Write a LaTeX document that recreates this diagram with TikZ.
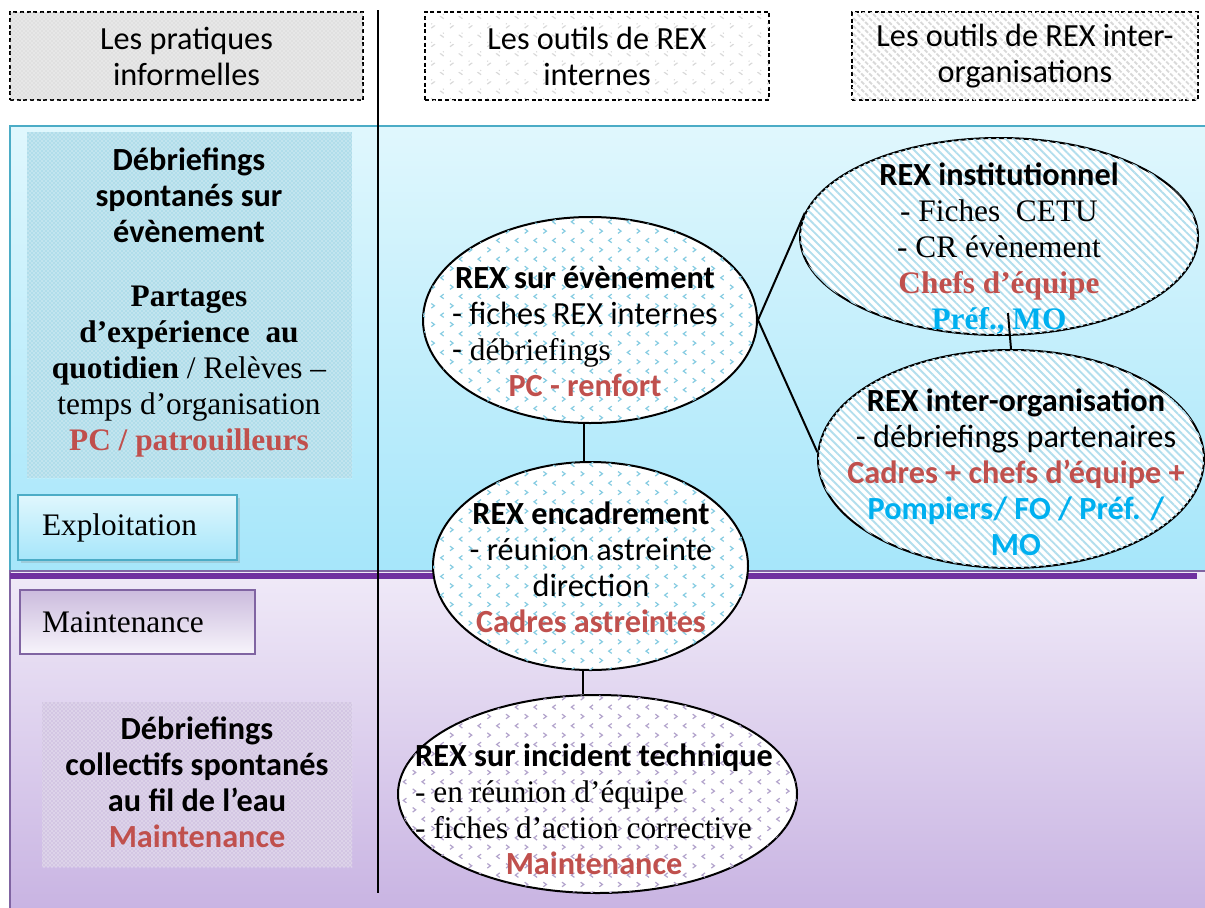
\documentclass[tikz,border=0pt]{standalone}
\usepackage{fontspec}
\setmainfont{Liberation Serif}
\newfontfamily\cb[Scale=1.03]{Carlito}
\usetikzlibrary{shapes.geometric,patterns,patterns.meta,shadows}
\definecolor{rred}{HTML}{C0504D}
\definecolor{bblue}{HTML}{00B0F0}
\definecolor{bandtop}{HTML}{E0F7FD}
\definecolor{bandbot}{HTML}{A6E6FA}
\definecolor{bandline}{HTML}{4BACC6}
\definecolor{ptop}{HTML}{F0EAF8}
\definecolor{pbot}{HTML}{C8B3E2}
\definecolor{pline}{HTML}{8064A2}
\definecolor{pbar}{HTML}{7030A0}
\definecolor{chevblue}{HTML}{86CCE2}
\definecolor{chevlav}{HTML}{B3A4CC}
\definecolor{hatchblue}{HTML}{B2DEED}
\definecolor{dotblue}{HTML}{B0DDEA}
\definecolor{dotlav}{HTML}{D3C6E3}
\definecolor{labtop}{HTML}{CBBBDD}
\pgfdeclarepatternformonly{chev}{\pgfqpoint{-1pt}{-1pt}}{\pgfqpoint{15pt}{15pt}}{\pgfqpoint{14pt}{14pt}}{%
  \pgfsetlinewidth{0.9pt}%
  \pgfpathmoveto{\pgfqpoint{1.5pt}{1.2pt}}\pgfpathlineto{\pgfqpoint{3.8pt}{2.9pt}}\pgfpathlineto{\pgfqpoint{1.5pt}{4.6pt}}%
  \pgfpathmoveto{\pgfqpoint{10.8pt}{8.2pt}}\pgfpathlineto{\pgfqpoint{8.5pt}{9.9pt}}\pgfpathlineto{\pgfqpoint{10.8pt}{11.6pt}}%
  \pgfusepath{stroke}}
\newcommand\fs{\fontsize{23.5}{27}\selectfont}
\newcommand\mc[1]{\multicolumn{1}{@{}c@{}}{#1}}
\tikzset{
  hdr/.style={draw, dash pattern=on 3pt off 2pt, line width=0.9pt, minimum height=66pt, inner sep=0pt, align=center, font=\cb\fs},
  bub/.style={ellipse, draw, line width=1.5pt, fill=white, inner sep=0pt},
  hatch/.style={postaction={pattern={Lines[angle=-45,distance=4.2pt,line width=1.4pt]}, pattern color=#1}},
  conn/.style={line width=1.5pt},
  txt/.style={inner sep=0pt, font=\fs},
  lab/.style={align=left, inner ysep=0pt, minimum height=48.5pt, line width=1.5pt, font=\fs}
}
\begin{document}
\begin{tikzpicture}[x=0.75pt,y=-0.75pt]
\useasboundingbox (0,0) rectangle (1205,907);
\fill[white] (0,0) rectangle (1205,907);
% bands
\shade[top color=bandtop, bottom color=bandbot] (10,126) rectangle (1215,571);
\draw[bandline, line width=1.5pt] (1215,126) -- (10,126) -- (10,571);
\shade[top color=ptop, bottom color=pbot] (10,571) rectangle (1215,915);
\draw[pline, line width=1pt] (1215,571) -- (10,571) -- (10,915);
\fill[pbar] (10,573) rectangle (1197,579);
% vertical divider
\draw[line width=1.5pt] (378,10) -- (378,893);
% headers
\node[hdr, minimum width=264.75pt, fill=gray!24, postaction={pattern=crosshatch dots, pattern color=white}] (h1) at (186.5,56) {Les pratiques\\informelles};
\node[hdr, minimum width=258pt, fill=white, postaction={pattern=chev, pattern color=gray!30}] (h2) at (597,56) {Les outils de REX\\internes};
\node[hdr, minimum width=259.5pt, fill=white, hatch=gray!30] (h3) at (1025,56) {Les outils de REX inter-\\organisations};
% left boxes
\node[inner sep=0pt, minimum width=243.75pt, minimum height=259.5pt, fill=dotblue, postaction={pattern=crosshatch dots, pattern color=white}] (lb1) at (189.5,305) {};
\node[txt] (lb1t) at (189,303) {\begin{tabular}{@{}c@{}}
{\cb\bfseries Débriefings}\\ {\cb\bfseries spontanés sur}\\ {\cb\bfseries évènement}\\[21pt]
\bfseries Partages\\ \bfseries d’expérience\ \ au\\ {\bfseries quotidien} / Relèves –\\ temps d’organisation\\ {\bfseries\color{rred} PC / patrouilleurs}
\end{tabular}};
\node[inner sep=0pt, minimum width=232.5pt, minimum height=123.75pt, fill=dotlav, postaction={pattern=crosshatch dots, pattern color=white}] (lb2) at (197,784.5) {};
\node[txt] (lb2t) at (197,786) {\cb\bfseries\begin{tabular}{@{}c@{}}
Débriefings\\ collectifs spontanés\\ au fil de l’eau\\ {\color{rred}Maintenance}
\end{tabular}};
% section labels
\node[lab, draw=bandline, top color=bandtop, bottom color=bandbot, drop shadow={opacity=0.25, shadow xshift=2pt, shadow yshift=-2pt}, inner xsep=18pt, text width=128.25pt] (expl) at (127.5,527.5) {Exploitation};
\node[lab, draw=pline, top color=labtop, bottom color=ptop!50!white, inner xsep=16.5pt, text width=143.25pt] (maint) at (137.5,622) {Maintenance};
% bubbles
\node[bub, minimum width=250.5pt, minimum height=154.5pt, postaction={pattern=chev, pattern color=chevblue}] (evt) at (590,320) {};
\node[bub, minimum width=236.25pt, minimum height=156pt, postaction={pattern=chev, pattern color=chevblue}] (enc) at (590.5,566) {};
\node[bub, minimum width=299.25pt, minimum height=148.5pt, postaction={pattern=chev, pattern color=chevlav}] (inc) at (597.5,794) {};
\node[bub, minimum width=298.5pt, minimum height=147.75pt, hatch=hatchblue] (inst) at (999,236.5) {};
\node[bub, minimum width=289.5pt, minimum height=163.5pt, hatch=hatchblue] (inter) at (1011,459) {};
% bubble texts
\node[txt] (evtt) at (585,335) {\begin{tabular}{@{}l@{}}
\mc{\cb\bfseries REX sur évènement}\\ \cb - fiches REX internes\\ {\cb -} débriefings\\ \mc{\cb\bfseries\color{rred} PC - renfort}
\end{tabular}};
\node[txt] (enct) at (591,571) {\cb\begin{tabular}{@{}c@{}}
{\bfseries REX encadrement}\\ - réunion astreinte\\ direction\\ {\bfseries\color{rred}Cadres astreintes}
\end{tabular}};
\node[txt] (inct) at (594,813) {\begin{tabular}{@{}l@{}}
\mc{\cb\bfseries REX sur incident technique}\\ - en réunion d’équipe\\ - fiches d’action corrective\\ \mc{\cb\bfseries\color{rred} Maintenance}
\end{tabular}};
\node[txt] (instt) at (999,250) {\begin{tabular}{@{}c@{}}
{\cb\bfseries REX institutionnel}\\ - Fiches\ \ CETU\\ - CR évènement\\ {\bfseries\color{rred}Chefs d’équipe}\\ {\bfseries\color{bblue}Préf., MO}
\end{tabular}};
\node[txt] (intert) at (1016,476) {\cb\begin{tabular}{@{}c@{}}
{\bfseries REX inter-organisation}\\ - débriefings partenaires\\ {\bfseries\color{rred}Cadres + chefs d’équipe +}\\ {\bfseries\color{bblue}Pompiers/ FO / Préf. /}\\ {\bfseries\color{bblue}MO}
\end{tabular}};
% connectors
\draw[conn] ([xshift=-4.5pt]evt.south) -- ([xshift=-4.5pt]evt.south |- enc.north);
\draw[conn] ([xshift=-5.5pt]enc.south) -- ([xshift=-5.5pt]enc.south |- inc.north);
\draw[conn] (evt.east) -- (inst.173);
\draw[conn] (evt.east) -- (inter.178);
\draw[conn] ([xshift=6.75pt, yshift=17.25pt]inst.south) -- (inter.north);
\end{tikzpicture}
\end{document}
